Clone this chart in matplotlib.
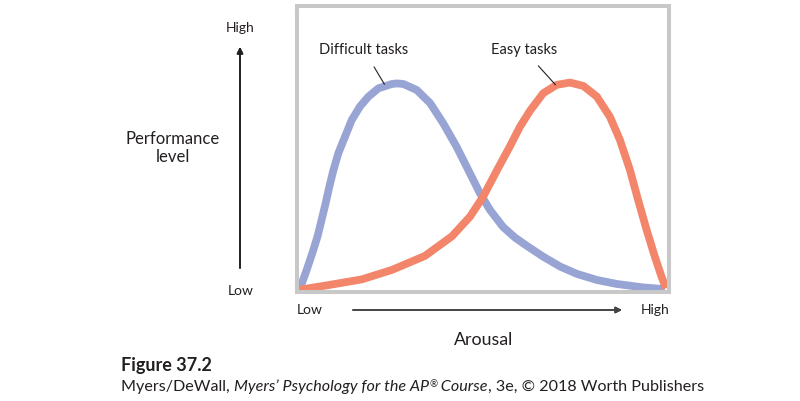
import matplotlib
matplotlib.use("Agg")
import matplotlib.pyplot as plt

plt.rcParams['font.family'] = ['Lato', 'DejaVu Sans']

# arousal (0-100) vs performance (0-100)
difficult_x = [0.3, 1.3, 2.6, 4.1, 5.5, 6.6, 7.7, 8.7, 9.8, 11.1, 12.9, 14.7,
               16.9, 19.2, 21.9, 25.5, 26.9, 28.6, 32.2, 35.8, 39.3, 42.9, 46.5,
               49.2, 51.9, 55.4, 58.6, 61.8, 66.1, 70.7, 75.3, 80.6, 86.0, 93.0, 98.9]
difficult_y = [1.0, 3.0, 7.7, 13.5, 19.3, 25.1, 31.0, 36.8, 42.6, 48.4, 54.2, 60.0,
               64.7, 68.2, 71.1, 72.6, 72.8, 72.6, 70.5, 65.9, 58.9, 50.7, 41.4,
               34.4, 28.6, 22.7, 19.0, 16.1, 12.4, 8.9, 6.3, 4.2, 2.8, 1.6, 1.0]
easy_x = [0.3, 8.4, 17.4, 25.5, 34.4, 41.7, 46.5, 50.0, 53.8, 57.3, 59.9, 62.6,
          66.2, 69.8, 73.4, 77.0, 80.6, 84.1, 86.8, 89.5, 91.7, 94.0, 96.2, 98.0, 99.2]
easy_y = [0.7, 2.4, 4.4, 7.7, 12.6, 19.5, 26.3, 33.2, 42.6, 51.0, 57.6, 63.2,
          69.4, 72.3, 73.1, 71.9, 68.2, 61.2, 53.1, 42.6, 32.1, 21.6, 12.3, 5.3, 1.3]

W, H = 800, 401
fig = plt.figure(figsize=(W / 100, H / 100), dpi=100, facecolor='white')

def fx(px):
    return px / W

def fy(py):
    return 1 - py / H

ax = fig.add_axes([fx(297), fy(292), (669 - 297) / W, (292 - 5.5) / H])
ax.set_xlim(0, 100)
ax.set_ylim(0, 100)
ax.set_xticks([])
ax.set_yticks([])
for s in ax.spines.values():
    s.set_color('#c8c8c8')
    s.set_linewidth(2.9)

blue = '#97a4d4'
orange = '#f2856a'
ax.plot(difficult_x, difficult_y, color=blue, lw=5.6, solid_joinstyle='round',
        solid_capstyle='butt', clip_on=False)
ax.plot(easy_x, easy_y, color=orange, lw=5.6, solid_joinstyle='round',
        solid_capstyle='butt', clip_on=False)

tc = '#231f20'
# curve labels with leader lines
ax.annotate('Difficult tasks', xy=(23.5, 72.5), xytext=(18, 84.5),
            ha='center', va='center', fontsize=10.5, color=tc,
            arrowprops=dict(arrowstyle='-', color=tc, lw=0.8,
                            shrinkA=6, shrinkB=0))
ax.annotate('Easy tasks', xy=(69.5, 72.3), xytext=(61, 84.5),
            ha='center', va='center', fontsize=10.5, color=tc,
            arrowprops=dict(arrowstyle='-', color=tc, lw=0.8,
                            shrinkA=6, shrinkB=0))

# vertical axis
fig.text(fx(240), fy(28), 'High', ha='center', va='center', fontsize=10, color=tc)
fig.text(fx(241), fy(291), 'Low', ha='center', va='center', fontsize=10, color=tc)
fig.text(fx(173), fy(148), 'Performance\nlevel', ha='center', va='center',
         fontsize=12, color=tc, linespacing=1.2)
fig.add_artist(plt.annotate('', xy=(fx(240), fy(47)), xytext=(fx(240), fy(268)),
                            xycoords='figure fraction', textcoords='figure fraction',
                            arrowprops=dict(arrowstyle='-|>', color=tc, lw=1.2,
                                            mutation_scale=9, shrinkA=0, shrinkB=0)))

# horizontal axis
fig.text(fx(310), fy(310), 'Low', ha='center', va='center', fontsize=10, color=tc)
fig.text(fx(655), fy(310), 'High', ha='center', va='center', fontsize=10, color=tc)
fig.text(fx(484), fy(340), 'Arousal', ha='center', va='center', fontsize=12.8, color=tc)
fig.add_artist(plt.annotate('', xy=(fx(622), fy(310)), xytext=(fx(353), fy(310)),
                            xycoords='figure fraction', textcoords='figure fraction',
                            arrowprops=dict(arrowstyle='-|>', color='#444444', lw=1.2,
                                            mutation_scale=9, shrinkA=0, shrinkB=0)))

# caption
fig.text(fx(121), fy(371), 'Figure 37.2', ha='left', va='baseline', fontsize=13,
         fontweight='bold', color=tc)

renderer = fig.canvas.get_renderer()
pieces = [
    ('Myers/DeWall, ', 'normal', 11.6, 0),
    ('Myers\u2019 Psychology for the AP', 'italic', 11.6, 0),
    ('\u00ae', 'normal', 7, 4),
    (' Course', 'italic', 11.6, 0),
    (', 3e, \u00a9 2018 Worth Publishers', 'normal', 11.6, 0),
]
xpos = 121
for txt, style, size, rise in pieces:
    t = fig.text(fx(xpos), fy(391 - rise), txt, ha='left', va='baseline',
                 fontsize=size, style=style, color=tc)
    xpos += t.get_window_extent(renderer).width

fig.savefig('out.png', dpi=100, facecolor='white')
